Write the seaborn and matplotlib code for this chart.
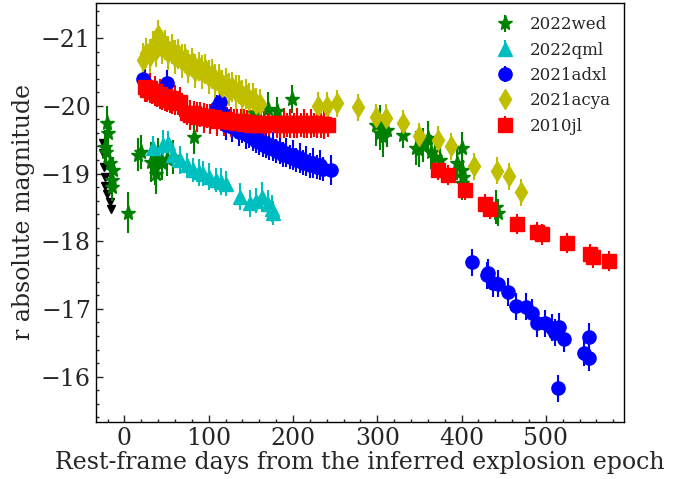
import numpy as np
import pandas as pd
import seaborn as sns
import matplotlib
matplotlib.use("Agg")
import matplotlib.pyplot as plt
from matplotlib.ticker import MultipleLocator

# ---- data (days, r abs mag, error) ----
wed_t = [-21, -19.5, -23, -22, -17, -13.5, -15, -15, 4, 16, 20, 32, 36, 40, 44, 50, 38, 58,
         82, 155, 170, 181, 199, 299, 303, 307, 311, 303, 330, 346, 350, 354, 360, 364, 368,
         374, 395, 401, 400, 402, 401, 441, 443]
wed_m = [-19.74, -19.6, -19.39, -19.32, -19.15, -19.05, -18.9, -18.8, -18.42, -19.28, -19.32,
         -19.17, -19.08, -19.22, -19.15, -19.22, -19.0, -19.25, -19.54, -19.9, -19.96, -19.93,
         -20.1, -19.71, -19.76, -19.54, -19.64, -19.6, -19.57, -19.38, -19.35, -19.42, -19.52,
         -19.32, -19.25, -19.2, -19.15, -19.37, -19.05, -18.95, -18.86, -18.5, -18.42]
wed_e = [0.25, 0.2, 0.25, 0.2, 0.25, 0.2, 0.25, 0.2, 0.3, 0.25, 0.25, 0.3, 0.25, 0.3, 0.25,
         0.25, 0.3, 0.25, 0.25, 0.2, 0.25, 0.2, 0.2, 0.3, 0.25, 0.3, 0.25, 0.25, 0.2, 0.25,
         0.25, 0.25, 0.25, 0.25, 0.25, 0.25, 0.25, 0.25, 0.3, 0.25, 0.25, 0.25, 0.2]

lim_t = [-25, -25, -24, -23, -23, -21, -17, -16]
lim_m = [-19.45, -19.3, -19.1, -18.95, -18.82, -18.7, -18.58, -18.47]

qml_t = [34, 46, 52, 58, 66, 74, 81, 88, 93, 100, 109, 115, 121, 137, 149, 156, 163, 170, 175, 176]
qml_m = [-19.38, -19.42, -19.45, -19.27, -19.2, -19.12, -19.05, -19.02, -19.0, -18.95, -18.9,
         -18.88, -18.85, -18.66, -18.56, -18.6, -18.65, -18.55, -18.48, -18.42]
qml_e = [0.18, 0.22, 0.18, 0.18, 0.2, 0.18, 0.18, 0.2, 0.18, 0.2, 0.18, 0.2, 0.18, 0.2,
         0.2, 0.18, 0.22, 0.2, 0.2, 0.18]

adxl_t = [22, 25, 50, 110, 113, 117, 121, 125, 128, 132, 136, 140, 144, 148, 152, 156, 160,
          164, 168, 172, 176, 180, 184, 188, 192, 196, 200, 204, 208, 212, 216, 220, 224, 228,
          232, 236, 245,
          412, 430, 431, 437, 443, 455, 465, 477, 483, 489, 499, 507, 511, 516, 522, 514, 545,
          551, 551]
adxl_m = [-20.4, -20.33, -20.33, -19.98, -20.05, -19.88, -19.72, -19.78, -19.68, -19.7, -19.62,
          -19.63, -19.58, -19.55, -19.55, -19.48, -19.5, -19.42, -19.45, -19.38, -19.4, -19.33,
          -19.36, -19.28, -19.31, -19.24, -19.27, -19.2, -19.23, -19.16, -19.19, -19.12, -19.15,
          -19.1, -19.13, -19.07, -19.05,
          -17.69, -17.5, -17.53, -17.38, -17.37, -17.25, -17.04, -17.03, -16.94, -16.79, -16.79,
          -16.72, -16.65, -16.74, -16.56, -15.83, -16.35, -16.59, -16.28]
adxl_e = [0.22, 0.22, 0.2] + [0.18, 0.22] * 17 + [0.2] * 19

acya_t = [22, 26, 30, 34, 38, 40, 44, 48, 52, 56, 60, 64, 68, 72, 76, 80, 84, 88, 92, 96, 100,
          104, 108, 112, 116, 120, 124, 128, 132, 136, 140, 144, 148, 152, 156, 161,
          230, 240, 252, 277, 299, 310, 330, 350, 372, 387, 415, 442, 456, 471]
acya_m = [-20.68, -20.78, -20.74, -20.88, -20.82, -21.05, -20.86, -20.9, -20.78, -20.84, -20.72,
          -20.76, -20.66, -20.7, -20.58, -20.64, -20.52, -20.58, -20.5, -20.54, -20.42, -20.47,
          -20.36, -20.4, -20.28, -20.34, -20.24, -20.28, -20.2, -20.24, -20.13, -20.17, -20.08,
          -20.12, -20.02, -20.03,
          -20.0, -20.0, -20.04, -19.98, -19.83, -19.82, -19.74, -19.55, -19.5, -19.4, -19.11,
          -19.04, -18.96, -18.72]
acya_e = [0.25, 0.22] * 18 + [0.2] * 14

jl_t = [24, 27, 30, 33, 36, 39, 42, 45, 48, 51, 54, 57, 60, 63, 66,
        74, 78, 82, 86, 90, 94, 98, 102, 106, 110, 114, 118, 122, 126, 130, 134, 138, 142,
        146, 150, 154, 158, 162, 166, 171,
        181, 185, 189, 193, 197, 201, 205, 209, 213, 217, 221, 225, 229, 233, 237, 241,
        372, 384, 404, 428, 434, 466, 489, 495, 525, 552, 556, 575]
jl_m = [-20.28, -20.24, -20.26, -20.2, -20.22, -20.16, -20.18, -20.12, -20.15, -20.09, -20.12,
        -20.06, -20.09, -20.04, -20.06,
        -19.9, -19.86, -19.89, -19.84, -19.87, -19.82, -19.85, -19.8, -19.83, -19.78, -19.81,
        -19.77, -19.8, -19.76, -19.78, -19.74, -19.77, -19.73, -19.76, -19.72, -19.75,
        -19.72, -19.74, -19.71, -19.74,
        -19.74, -19.71, -19.75, -19.72, -19.74, -19.71, -19.75, -19.72, -19.74, -19.71,
        -19.74, -19.72, -19.75, -19.71, -19.73, -19.72,
        -19.05, -18.98, -18.76, -18.55, -18.48, -18.25, -18.14, -18.1, -17.97, -17.81, -17.76,
        -17.71]
jl_e = [0.22, 0.18] * 28 + [0.15] * 12

sns.set_style("ticks")
plt.rcParams['font.family'] = ['DejaVu Serif']
plt.rcParams['mathtext.fontset'] = 'dejavuserif'

fig = plt.figure(figsize=(6.89, 4.79), dpi=100)
ax = fig.add_axes([0.139, 0.119, 0.767, 0.875])

ax.plot(lim_t, lim_m, 'v', color='k', ms=6, ls='none', zorder=1)
ax.errorbar(wed_t, wed_m, yerr=wed_e, fmt='*', color='g', ms=11, elinewidth=1.5,
            capsize=0, label='2022wed')
ax.errorbar(qml_t, qml_m, yerr=qml_e, fmt='^', color='c', ms=10, elinewidth=1.5,
            capsize=0, label='2022qml')
ax.errorbar(adxl_t, adxl_m, yerr=adxl_e, fmt='o', color='b', ms=9.5, elinewidth=1.5,
            capsize=0, label='2021adxl')
ax.errorbar(acya_t, acya_m, yerr=acya_e, fmt='d', color='y', ms=10, elinewidth=1.5,
            capsize=0, label='2021acya')
ax.errorbar(jl_t, jl_m, yerr=jl_e, fmt='s', color='r', ms=9.5, elinewidth=1.5,
            capsize=0, label='2010jl')

ax.set_xlim(-34, 593)
ax.set_ylim(-15.33, -21.52)
ax.xaxis.set_major_locator(MultipleLocator(100))
ax.xaxis.set_minor_locator(MultipleLocator(20))
ax.yaxis.set_major_locator(MultipleLocator(1))
ax.yaxis.set_minor_locator(MultipleLocator(0.2))
ax.tick_params(which='both', direction='in', labelsize=17)
ax.tick_params(which='major', length=5, width=1)
ax.tick_params(which='minor', length=2.5, width=1)
for s in ax.spines.values():
    s.set_linewidth(1)
    s.set_color('k')

ax.set_xlabel('Rest-frame days from the inferred explosion epoch', fontsize=17, labelpad=1)
ax.set_ylabel('r absolute magnitude', fontsize=17, labelpad=4)
ax.legend(loc='upper right', frameon=False, fontsize=12, handletextpad=0.5,
          labelspacing=0.5, borderaxespad=0.4)

fig.savefig('out.png', dpi=100)
